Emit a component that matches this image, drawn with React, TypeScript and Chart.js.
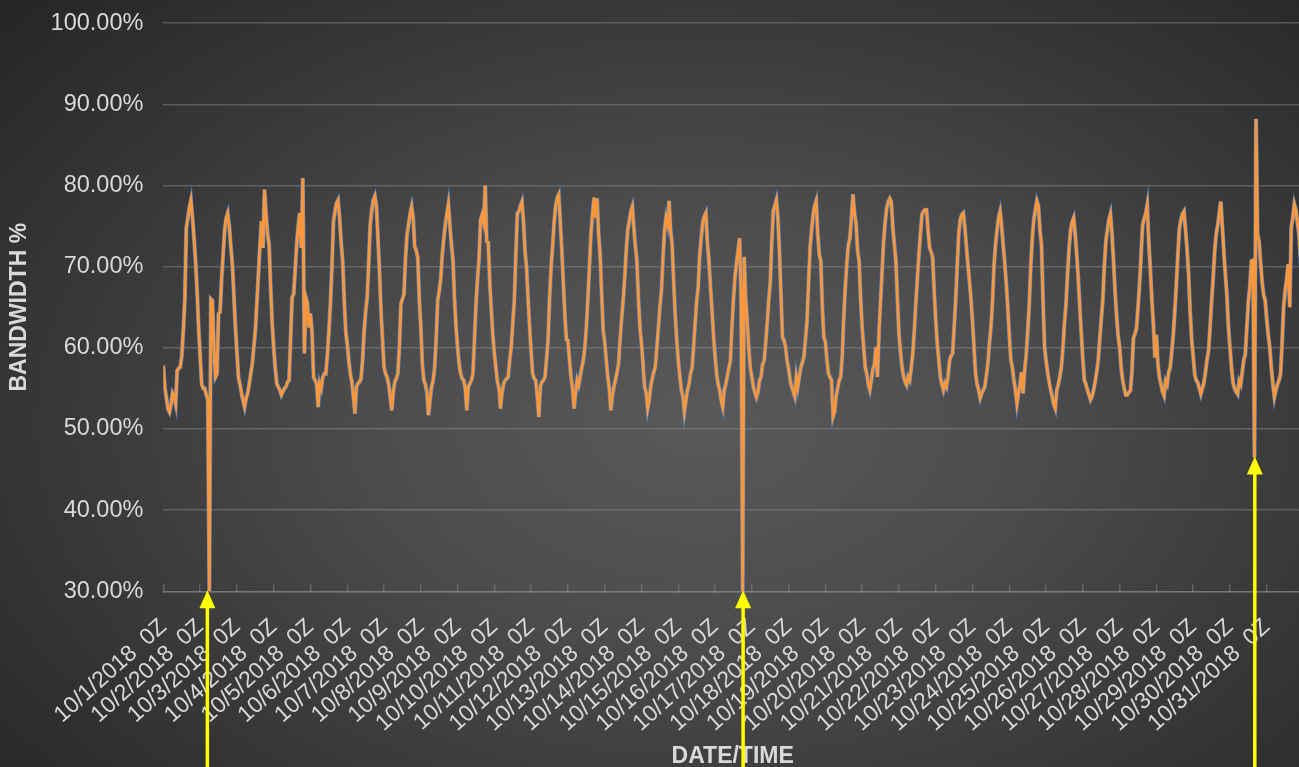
import React, { useEffect, useRef } from "react";
import { Chart, registerables } from "chart.js";

Chart.register(...registerables);

// Tick labels (one per day, 0Z)
const dayLabels = [
  "10/1/2018", "10/2/2018", "10/3/2018", "10/4/2018", "10/5/2018", "10/6/2018", "10/7/2018", "10/8/2018",
  "10/9/2018", "10/10/2018", "10/11/2018", "10/12/2018", "10/13/2018", "10/14/2018", "10/15/2018", "10/16/2018",
  "10/17/2018", "10/18/2018", "10/19/2018", "10/20/2018", "10/21/2018", "10/22/2018", "10/23/2018", "10/24/2018",
  "10/25/2018", "10/26/2018", "10/27/2018", "10/28/2018", "10/29/2018", "10/30/2018", "10/31/2018",
];

// Hourly bandwidth % (0Z .. 23Z) per day
const oct01 = [57.8, 55.0, 53.8, 52.5, 52.1, 53.0, 54.4, 54.0, 53.1, 57.2, 57.5, 57.6, 59.0, 62.1, 66.0, 74.8, 76.0, 77.3, 78.2, 76.0, 73.5, 70.7, 67.0, 62.5];
const oct02 = [59.0, 55.5, 55.0, 55.0, 54.2, 53.6, 30.0, 66.0, 65.8, 60.0, 56.4, 56.8, 64.2, 64.4, 68.5, 71.5, 74.5, 76.0, 76.6, 75.0, 72.5, 70.3, 66.5, 62.5];
const oct03 = [59.5, 56.4, 55.5, 54.4, 53.5, 52.7, 53.8, 54.4, 55.5, 56.8, 58.0, 60.0, 62.1, 65.5, 69.0, 72.5, 75.6, 72.3, 79.5, 76.5, 74.0, 72.7, 67.5, 63.0];
const oct04 = [60.0, 57.5, 55.6, 55.2, 54.8, 54.2, 54.6, 55.0, 55.2, 55.8, 56.0, 61.0, 66.2, 66.6, 69.5, 72.7, 75.0, 76.6, 72.3, 80.9, 59.3, 66.2, 65.5, 62.5];
const oct05 = [64.2, 62.0, 56.4, 56.0, 55.6, 52.7, 55.6, 55.0, 56.4, 56.8, 56.8, 59.0, 62.0, 65.4, 70.0, 75.6, 76.8, 77.8, 78.2, 76.0, 73.0, 70.7, 66.0, 62.0];
const oct06 = [60.5, 58.4, 56.8, 55.8, 54.0, 51.9, 55.2, 55.6, 55.8, 56.2, 58.5, 62.0, 64.5, 66.2, 70.5, 75.2, 77.0, 78.2, 78.7, 77.5, 73.6, 69.5, 64.6, 61.0];
const oct07 = [57.6, 56.8, 56.4, 55.5, 54.0, 52.3, 54.5, 55.8, 56.2, 56.8, 60.0, 65.4, 66.0, 66.6, 71.0, 74.0, 75.2, 76.5, 77.4, 76.0, 72.5, 72.0, 71.1, 66.0];
const oct08 = [62.5, 58.0, 56.0, 55.5, 54.5, 51.7, 53.5, 55.2, 56.0, 57.5, 61.0, 65.8, 67.0, 68.5, 71.5, 73.5, 75.2, 76.5, 77.7, 75.0, 72.7, 70.7, 66.0, 62.5];
const oct09 = [60.0, 58.0, 56.8, 56.2, 56.0, 55.0, 52.3, 55.2, 55.6, 56.0, 56.8, 61.0, 65.4, 68.5, 71.0, 75.8, 76.4, 75.5, 80.0, 73.1, 73.0, 68.0, 64.6, 61.5];
const oct10 = [59.3, 57.5, 55.8, 55.0, 52.5, 54.5, 55.5, 56.0, 56.2, 56.4, 58.5, 60.1, 63.0, 65.8, 71.5, 76.6, 76.8, 77.5, 78.0, 75.5, 71.9, 69.9, 66.0, 62.5];
const oct11 = [59.5, 56.8, 56.2, 56.0, 54.0, 51.5, 55.2, 55.8, 56.0, 56.4, 58.5, 60.9, 66.0, 69.9, 72.5, 75.5, 77.5, 78.5, 78.9, 75.5, 72.0, 68.0, 64.0, 61.0];
const oct12 = [60.9, 58.5, 56.4, 55.0, 52.5, 54.5, 56.0, 55.4, 56.5, 57.5, 58.4, 60.0, 62.5, 66.0, 69.9, 74.0, 76.4, 78.5, 76.0, 78.4, 74.0, 71.5, 66.6, 62.1];
const oct13 = [60.7, 58.5, 56.4, 55.0, 52.3, 54.0, 55.2, 56.0, 57.0, 58.0, 60.9, 63.5, 65.8, 68.5, 71.9, 74.5, 75.6, 76.8, 77.4, 74.8, 72.5, 70.7, 66.0, 62.5];
const oct14 = [60.5, 58.0, 55.2, 54.5, 52.5, 53.5, 55.2, 56.2, 57.0, 57.6, 60.0, 62.5, 65.0, 67.0, 71.0, 74.4, 76.0, 75.2, 78.1, 74.5, 72.7, 68.0, 64.0, 61.0];
const oct15 = [58.4, 56.5, 54.8, 54.0, 52.1, 53.5, 54.8, 55.5, 56.8, 57.5, 60.1, 63.0, 65.8, 67.5, 71.5, 73.6, 75.5, 76.2, 76.6, 73.0, 70.7, 67.5, 64.6, 61.5];
const oct16 = [59.0, 56.8, 55.5, 54.8, 53.5, 52.7, 54.8, 55.5, 56.5, 57.5, 58.4, 62.5, 66.0, 68.7, 70.5, 72.0, 73.5, 66.0, 30.0, 71.2, 66.0, 63.3, 60.0, 57.5];
const oct17 = [56.4, 55.2, 54.5, 53.9, 54.5, 56.0, 56.4, 58.0, 58.4, 60.5, 63.0, 65.8, 68.0, 73.0, 76.9, 77.5, 78.2, 76.0, 71.9, 66.6, 61.3, 60.9, 60.1, 58.4];
const oct18 = [57.4, 56.0, 55.2, 54.6, 54.0, 56.4, 55.2, 56.5, 57.6, 58.2, 58.9, 61.0, 63.3, 68.0, 72.3, 74.5, 76.4, 77.5, 78.1, 74.0, 71.5, 70.7, 65.0, 61.3];
const oct19 = [60.7, 58.5, 56.8, 56.4, 56.0, 51.5, 52.1, 54.0, 55.0, 56.0, 56.4, 59.0, 63.8, 67.5, 70.5, 72.7, 73.5, 76.0, 78.9, 76.5, 75.4, 72.0, 70.7, 66.0];
const oct20 = [62.5, 60.0, 57.6, 56.8, 55.5, 54.8, 56.0, 57.4, 58.0, 60.1, 56.4, 62.0, 65.8, 69.5, 73.1, 75.5, 77.2, 78.0, 78.4, 78.0, 74.8, 72.7, 70.7, 66.0];
const oct21 = [61.7, 59.5, 57.6, 56.5, 55.8, 55.4, 56.4, 56.0, 57.5, 59.3, 62.0, 65.4, 68.5, 71.5, 74.0, 76.4, 76.8, 77.0, 77.0, 74.5, 72.3, 71.8, 71.1, 67.0];
const oct22 = [63.3, 60.5, 58.5, 56.4, 55.5, 54.8, 55.6, 55.2, 56.5, 58.4, 59.0, 59.3, 62.5, 65.8, 70.0, 74.0, 75.8, 76.4, 76.6, 74.8, 72.5, 70.3, 68.2, 66.0];
const oct23 = [63.3, 60.0, 56.8, 55.5, 54.8, 53.8, 54.4, 54.8, 55.2, 56.5, 58.0, 60.5, 62.5, 65.5, 70.0, 72.7, 74.5, 76.0, 76.8, 75.0, 72.7, 70.5, 68.0, 65.0];
const oct24 = [61.5, 58.5, 57.6, 56.0, 54.8, 53.1, 54.4, 55.5, 57.0, 54.4, 57.2, 59.0, 62.0, 65.2, 70.0, 73.5, 75.8, 77.0, 78.1, 77.5, 74.5, 72.7, 66.0, 60.1];
const oct25 = [58.4, 57.0, 55.8, 54.8, 54.0, 53.0, 52.5, 54.8, 55.5, 56.5, 57.6, 60.0, 63.0, 65.4, 69.0, 72.3, 74.5, 75.5, 76.0, 74.0, 71.5, 68.5, 65.0, 61.7];
const oct26 = [58.5, 56.0, 55.5, 54.8, 54.2, 53.6, 54.0, 54.8, 55.8, 57.0, 58.4, 61.0, 63.5, 65.8, 70.0, 73.1, 74.5, 75.8, 76.5, 74.0, 70.7, 67.0, 64.0, 61.5];
const oct27 = [60.1, 57.5, 56.0, 55.0, 54.2, 54.2, 54.5, 54.7, 57.0, 61.2, 61.7, 62.4, 65.0, 67.8, 71.5, 75.1, 75.9, 76.5, 77.6, 73.0, 69.8, 66.0, 63.0, 58.8];
const oct28 = [61.6, 58.0, 56.3, 55.5, 54.6, 54.1, 55.9, 55.5, 57.0, 57.6, 59.5, 61.6, 64.5, 67.8, 71.5, 74.7, 75.8, 76.5, 76.8, 74.5, 72.2, 69.0, 64.5, 61.0];
const oct29 = [59.0, 56.7, 56.0, 55.7, 55.0, 54.3, 55.0, 55.7, 57.0, 58.5, 59.6, 62.5, 65.7, 68.5, 71.8, 74.0, 75.1, 76.5, 78.0, 75.0, 71.8, 69.0, 66.5, 62.5];
const oct30 = [60.0, 57.6, 55.7, 55.0, 54.6, 54.3, 55.9, 55.5, 57.0, 58.5, 59.2, 62.5, 65.7, 67.6, 70.7, 70.8, 46.5, 88.2, 74.0, 73.1, 70.5, 68.0, 66.5, 65.8];
const oct31 = [63.5, 61.5, 60.0, 57.5, 55.5, 53.9, 54.8, 55.5, 56.0, 56.8, 60.5, 65.0, 67.0, 68.5, 70.3, 65.0, 74.8, 76.0, 77.7, 77.0, 75.5, 74.0, 71.0, 68.0];

const bandwidth = [
  ...oct01, ...oct02, ...oct03, ...oct04, ...oct05, ...oct06, ...oct07, ...oct08,
  ...oct09, ...oct10, ...oct11, ...oct12, ...oct13, ...oct14, ...oct15, ...oct16,
  ...oct17, ...oct18, ...oct19, ...oct20, ...oct21, ...oct22, ...oct23, ...oct24,
  ...oct25, ...oct26, ...oct27, ...oct28, ...oct29, ...oct30, ...oct31,
];

// Yellow callout arrows: hour index and value of the tip
const arrowAt = [28.7, 378.3, 712.2];
const arrowTip = [30, 30, 46.5];

const yTicks = [30, 40, 50, 60, 70, 80, 90, 100];

const TEXT = "#d9d9d9";
const GRID = "rgba(150,150,150,0.42)";
const FONT = "'Liberation Sans', Arial, sans-serif";

const arrowPlugin = {
  id: "arrows",
  afterDraw(chart: any) {
    const { ctx, scales } = chart;
    const xs = scales.x;
    const ys = scales.y;
    ctx.save();
    ctx.strokeStyle = "#ffff00";
    ctx.fillStyle = "#ffff00";
    ctx.lineWidth = 3.5;
    for (let i = 0; i < arrowAt.length; i++) {
      const px = xs.getPixelForValue(arrowAt[i]);
      const tip = ys.getPixelForValue(arrowTip[i]);
      const headH = 17;
      const headW = 8;
      ctx.beginPath();
      ctx.moveTo(px, chart.height + 5);
      ctx.lineTo(px, tip + headH - 1);
      ctx.stroke();
      ctx.beginPath();
      ctx.moveTo(px, tip - 1);
      ctx.lineTo(px - headW, tip + headH);
      ctx.lineTo(px + headW, tip + headH);
      ctx.closePath();
      ctx.fill();
    }
    ctx.restore();
  },
};

export default function App() {
  const ref = useRef<HTMLCanvasElement | null>(null);

  useEffect(() => {
    if (!ref.current) return;
    const points = bandwidth.map((v, i) => ({ x: i, y: v }));
    const chart = new Chart(ref.current, {
      type: "line",
      data: {
        datasets: [
          {
            label: "Bandwidth",
            data: points,
            borderColor: "#f9973f",
            borderWidth: 3,
            pointRadius: 0,
            tension: 0,
            order: 0,
          },
          {
            label: "Bandwidth (outline)",
            data: points,
            borderColor: "#4f81bd",
            borderWidth: 4.2,
            pointRadius: 0,
            tension: 0,
            order: 1,
          },
        ],
      },
      options: {
        animation: false,
        responsive: true,
        maintainAspectRatio: false,
        layout: { padding: { left: 2, top: 0, right: 18, bottom: 0 } },
        plugins: {
          legend: { display: false },
          tooltip: { enabled: false },
        },
        scales: {
          x: {
            type: "linear",
            min: 0,
            max: bandwidth.length - 1,
            afterBuildTicks: (scale: any) => {
              scale.ticks = dayLabels.map((_, i) => ({ value: i * 24 }));
            },
            ticks: {
              autoSkip: false,
              minRotation: 42,
              maxRotation: 42,
              padding: 29,
              color: TEXT,
              font: { family: FONT, size: 23 },
              callback: (v: any) => {
                const d = Math.round(Number(v) / 24);
                return dayLabels[d] ? dayLabels[d] + "  0Z" : "";
              },
            },
            grid: {
              drawOnChartArea: false,
              drawTicks: true,
              tickLength: -7,
              color: GRID,
              lineWidth: 1.5,
            },
            border: { display: true, color: GRID, width: 1.5 },
            title: {
              display: true,
              text: "DATE/TIME",
              color: TEXT,
              font: { family: FONT, size: 23, weight: "bold" },
              padding: { top: -24, bottom: -3 },
            },
          },
          y: {
            min: 30,
            max: 100,
            afterBuildTicks: (scale: any) => {
              scale.ticks = yTicks.map((v) => ({ value: v }));
            },
            ticks: {
              padding: 20,
              color: TEXT,
              font: { family: FONT, size: 23.5 },
              callback: (v: any) => Number(v).toFixed(2) + "%",
            },
            grid: {
              drawTicks: false,
              color: GRID,
              lineWidth: 1.5,
            },
            border: { display: false },
            title: {
              display: true,
              text: "BANDWIDTH %",
              color: TEXT,
              font: { family: FONT, size: 23, weight: "bold" },
              padding: { top: 4, bottom: -3 },
            },
          },
        },
      },
      plugins: [arrowPlugin],
    });
    return () => chart.destroy();
  }, []);

  return (
    <div
      style={{
        position: "fixed",
        left: 0,
        top: 0,
        width: 1299,
        height: 767,
        overflow: "hidden",
        background:
          "radial-gradient(ellipse 72% 80% at 54% 55%, #595959 0%, #4c4c4c 35%, #373737 70%, #262626 100%)",
      }}
    >
      <div style={{ position: "absolute", left: 0, top: -11, width: 1320, height: 778 }}>
        <canvas ref={ref} />
      </div>
    </div>
  );
}
